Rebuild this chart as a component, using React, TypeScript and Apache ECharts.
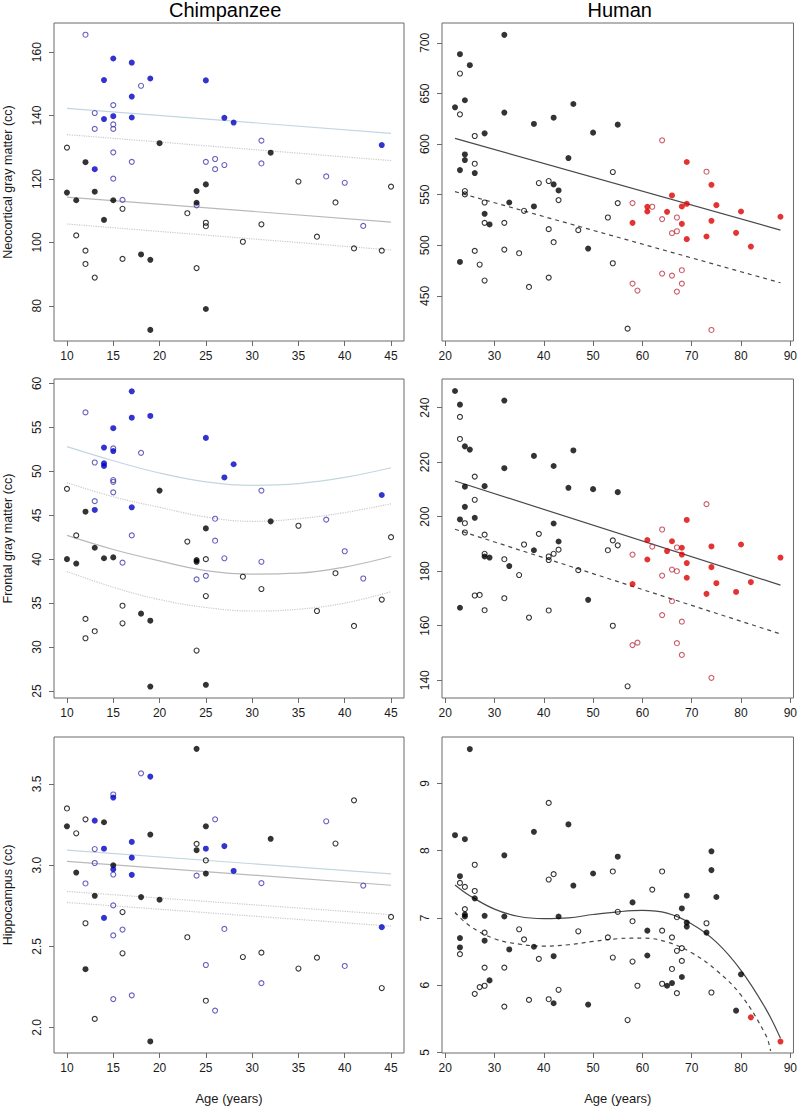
import { useEffect, useRef } from 'react'
import * as echarts from 'echarts'

// ─── tick labels ───
const CHIMP_AGE_TICKS = [10, 15, 20, 25, 30, 35, 40, 45]
const HUMAN_AGE_TICKS = [20, 30, 40, 50, 60, 70, 80, 90]
const NEO_CHIMP_TICKS = [80, 100, 120, 140, 160]
const NEO_HUMAN_TICKS = [450, 500, 550, 600, 650, 700]
const FRONT_CHIMP_TICKS = [25, 30, 35, 40, 45, 50, 55, 60]
const FRONT_HUMAN_TICKS = [140, 160, 180, 200, 220, 240]
const HIPPO_CHIMP_TICKS = [2.0, 2.5, 3.0, 3.5]
const HIPPO_HUMAN_TICKS = [5, 6, 7, 8, 9]

const TITLES = ['Chimpanzee', 'Human']
const Y_NAMES = ['Neocortical gray matter (cc)', 'Frontal gray matter (cc)', 'Hippocampus (cc)']
const X_NAME = 'Age (years)'

// ─── chimpanzee neocortical gray matter [age, cc] ───
const neoChBlackFilled = [
  [10, 115.7], [11, 113.3], [12, 125.3], [13, 116.0], [14, 107.1], [15, 113.3], [18, 96.2], [19, 94.5],
  [19, 72.4], [20, 131.3], [24, 116.2], [24, 112.5], [25, 118.3], [25, 79.0], [32, 128.3],
]
const neoChBlackOpen = [
  [10, 129.9], [11, 102.2], [12, 97.4], [12, 93.2], [13, 88.9], [16, 110.6], [16, 94.8], [23, 109.2],
  [24, 91.9], [25, 106.2], [25, 105.1], [29, 100.2], [31, 105.7], [35, 119.2], [37, 101.8], [39, 112.6],
  [41, 98.1], [44, 97.4], [45, 117.6],
]
const neoChBlueFilled = [
  [15, 158.0], [17, 156.7], [14, 151.2], [19, 151.7], [25, 151.1], [17, 146.0], [14, 138.9], [15, 139.8],
  [17, 139.4], [27, 139.3], [28, 137.8], [13, 123.1], [44, 130.7],
]
const neoChBlueOpen = [
  [12, 165.5], [18, 149.4], [15, 143.3], [13, 140.8], [13, 135.8], [15, 137.2], [15, 135.8], [15, 128.4],
  [17, 125.4], [15, 120.1], [31, 132.1], [31, 124.9], [25, 125.4], [26, 126.3], [26, 123.1], [27, 124.4],
  [16, 113.4], [24, 111.7], [38, 120.8], [40, 118.8], [42, 105.2],
]

// ─── chimpanzee frontal gray matter ───
const frontChBlackFilled = [
  [10, 40.0], [11, 39.5], [12, 45.4], [13, 41.3], [14, 40.1], [15, 40.2], [18, 33.8], [19, 33.0],
  [19, 25.5], [20, 47.8], [24, 39.9], [24, 39.7], [25, 43.5], [25, 25.7], [32, 44.3],
]
const frontChBlackOpen = [
  [10, 48.0], [11, 42.7], [12, 33.2], [12, 31.0], [13, 31.8], [16, 34.7], [16, 32.7], [23, 42.0],
  [24, 29.6], [25, 40.0], [25, 35.8], [29, 38.0], [31, 36.6], [35, 43.8], [37, 34.1], [39, 38.4],
  [41, 32.4], [44, 35.4], [45, 42.5],
]
const frontChBlueFilled = [
  [17, 59.1], [17, 56.1], [19, 56.3], [15, 54.9], [25, 53.8], [14, 52.7], [15, 52.3], [14, 50.9],
  [14, 50.6], [28, 50.8], [27, 49.3], [17, 45.9], [13, 45.6], [44, 47.3],
]
const frontChBlueOpen = [
  [12, 56.7], [18, 52.1], [15, 52.6], [13, 51.0], [15, 49.0], [15, 48.8], [15, 47.6], [13, 46.6],
  [17, 42.7], [16, 39.6], [31, 47.8], [26, 44.6], [26, 42.1], [27, 40.1], [31, 39.7], [25, 38.1],
  [24, 37.7], [38, 44.5], [40, 40.9], [42, 37.8],
]

// ─── chimpanzee hippocampus ───
const hipChBlackFilled = [
  [10, 3.239], [11, 2.954], [12, 2.359], [13, 2.811], [14, 3.264], [15, 2.999], [18, 2.803], [19, 3.188],
  [19, 1.914], [20, 2.787], [24, 3.716], [24, 3.092], [25, 3.239], [25, 2.948], [32, 3.162],
]
const hipChBlackOpen = [
  [10, 3.349], [11, 3.196], [12, 3.282], [12, 2.642], [13, 2.053], [16, 2.711], [16, 2.457], [23, 2.556],
  [24, 3.131], [25, 3.029], [25, 2.165], [29, 2.434], [31, 2.461], [35, 2.363], [37, 2.430], [39, 3.133],
  [41, 3.399], [44, 2.243], [45, 2.681],
]
const hipChBlueFilled = [
  [13, 3.274], [14, 3.101], [14, 2.675], [15, 3.416], [15, 2.974], [17, 3.143], [17, 3.046], [17, 2.940],
  [19, 3.545], [25, 3.101], [27, 3.117], [28, 2.964], [44, 2.618],
]
const hipChBlueOpen = [
  [13, 3.099], [13, 3.013], [12, 2.887], [15, 3.435], [15, 2.942], [15, 2.752], [15, 2.567], [16, 2.603],
  [17, 2.198], [15, 2.175], [18, 3.565], [24, 2.935], [25, 2.385], [26, 3.282], [26, 2.104], [27, 2.607],
  [31, 2.889], [31, 2.273], [38, 3.270], [40, 2.379], [42, 2.874],
]

// ─── human neocortical gray matter ───
const neoHuBlackFilled = [
  [22, 636.3], [23, 688.8], [23, 574.3], [23, 483.6], [24, 643.3], [24, 589.8], [24, 584.2], [25, 677.9],
  [26, 571.4], [28, 610.6], [28, 531.1], [29, 520.6], [32, 707.9], [32, 631.1], [33, 542.3], [38, 619.9],
  [38, 538.4], [42, 626.1], [42, 560.2], [43, 554.2], [45, 586.2], [46, 639.6], [49, 496.8], [50, 611.3],
  [55, 619.2],
]
const neoHuBlackOpen = [
  [23, 669.7], [23, 629.4], [24, 553.6], [24, 550.3], [26, 608.0], [26, 580.6], [26, 494.5], [27, 481.0],
  [28, 542.3], [28, 522.2], [28, 465.2], [32, 522.2], [32, 495.8], [35, 492.2], [36, 534.1], [37, 458.9],
  [39, 561.5], [41, 563.5], [41, 516.0], [41, 468.1], [42, 503.1], [43, 544.7], [47, 515.0], [53, 527.5],
  [54, 572.4], [54, 482.3], [55, 541.7], [57, 417.7],
]
const neoHuRedFilled = [
  [58, 522.2], [61, 538.1], [61, 533.4], [65, 533.1], [66, 549.3], [68, 538.4], [68, 521.2], [69, 582.3],
  [69, 541.0], [69, 506.1], [73, 508.7], [74, 559.8], [74, 524.2], [75, 539.7], [79, 512.3], [80, 533.4],
  [82, 498.8], [88, 528.2],
]
const neoHuRedOpen = [
  [64, 603.7], [58, 541.7], [62, 538.1], [64, 525.9], [66, 512.0], [67, 527.5], [67, 513.9], [73, 572.7],
  [58, 462.2], [59, 455.3], [64, 472.1], [66, 470.1], [67, 454.3], [68, 475.4], [68, 462.2], [74, 416.4],
]

// ─── human frontal gray matter ───
const frontHuBlackFilled = [
  [22, 246.1], [23, 241.1], [23, 166.6], [23, 199.0], [24, 225.8], [24, 211.0], [24, 203.6], [25, 224.6],
  [26, 199.6], [28, 211.2], [28, 185.4], [29, 185.0], [32, 242.6], [32, 217.8], [33, 181.9], [38, 222.3],
  [38, 187.7], [42, 218.6], [42, 197.5], [43, 190.9], [45, 210.6], [46, 224.3], [49, 169.5], [50, 210.1],
  [55, 209.0],
]
const frontHuBlackOpen = [
  [23, 236.6], [23, 228.5], [24, 197.6], [24, 194.2], [26, 214.7], [26, 206.2], [26, 171.1], [27, 171.3],
  [28, 193.4], [28, 186.4], [28, 165.7], [32, 184.4], [32, 170.1], [35, 178.6], [36, 189.8], [37, 163.0],
  [39, 193.7], [41, 185.4], [41, 184.1], [41, 165.6], [42, 186.4], [43, 187.9], [47, 180.4], [53, 187.7],
  [54, 191.3], [54, 160.0], [55, 189.5], [57, 137.8],
]
const frontHuRedFilled = [
  [58, 175.3], [61, 191.4], [61, 184.3], [65, 187.4], [66, 191.0], [68, 188.6], [68, 186.1], [69, 198.8],
  [69, 183.0], [69, 177.6], [73, 171.7], [74, 189.1], [74, 181.5], [75, 175.6], [79, 172.4], [80, 189.8],
  [82, 176.0], [88, 185.0],
]
const frontHuRedOpen = [
  [73, 204.6], [64, 195.3], [58, 186.1], [62, 189.0], [64, 178.4], [67, 188.7], [66, 180.6], [67, 180.0],
  [66, 169.0], [64, 163.9], [68, 161.5], [58, 152.9], [59, 153.8], [67, 153.6], [68, 149.3], [74, 140.9],
]

// ─── human hippocampus ───
const hipHuBlackFilled = [
  [22, 8.23], [23, 7.62], [23, 6.70], [23, 6.56], [24, 8.17], [24, 7.05], [24, 7.02], [25, 9.51],
  [26, 7.29], [28, 7.03], [28, 6.66], [29, 6.07], [32, 7.93], [32, 7.02], [33, 6.53], [38, 8.28],
  [38, 6.57], [42, 6.43], [42, 5.73], [43, 7.02], [45, 8.39], [46, 7.48], [49, 5.71], [50, 7.66],
  [55, 7.91], [58, 7.23], [61, 6.81], [61, 6.44], [65, 5.99], [66, 6.03], [68, 7.14], [68, 6.12],
  [69, 7.33], [69, 6.93], [69, 6.87], [73, 6.78], [74, 7.99], [74, 7.71], [75, 7.31], [79, 5.62],
  [80, 6.16],
]
const hipHuBlackOpen = [
  [23, 7.52], [23, 6.46], [24, 7.46], [24, 7.13], [26, 7.79], [26, 7.40], [26, 5.87], [27, 5.97],
  [28, 6.78], [28, 6.26], [28, 5.99], [32, 6.26], [32, 5.68], [35, 6.83], [36, 6.68], [37, 5.78],
  [39, 6.39], [41, 8.71], [41, 7.57], [41, 5.79], [42, 7.65], [43, 5.93], [47, 6.80], [53, 6.71],
  [54, 7.69], [54, 6.41], [55, 7.09], [57, 5.48], [58, 6.95], [58, 6.35], [59, 5.99], [62, 7.42],
  [64, 7.69], [64, 6.81], [64, 6.02], [66, 6.71], [66, 6.24], [67, 7.01], [67, 6.51], [67, 5.88],
  [68, 6.55], [68, 6.36], [73, 6.92], [74, 5.89],
]
const hipHuRedFilled = [[82, 5.52], [88, 5.16]]

// ─── fitted lines ───
const neoChFitBlue = [[10, 142.3], [45, 134.4]]
const neoChCiBlue = [[10, 134.0], [45, 125.8]]
const neoChFitGray = [[10, 114.3], [45, 106.4]]
const neoChCiGray = [[10, 105.8], [45, 97.6]]

const frontChFitBlue = [[10, 52.8], [15, 51.2], [20, 49.8], [25, 48.8], [30, 48.4], [35, 48.6], [40, 49.3], [45, 50.4]]
const frontChCiBlue = [[10, 48.7], [15, 47.1], [20, 45.9], [25, 44.8], [30, 44.3], [35, 44.6], [40, 45.3], [45, 46.3]]
const frontChFitGray = [[10, 42.7], [15, 41.1], [20, 39.8], [25, 38.7], [30, 38.3], [35, 38.4], [40, 39.1], [45, 40.3]]
const frontChCiGray = [[10, 38.6], [15, 36.8], [20, 35.4], [25, 34.5], [30, 34.1], [35, 34.3], [40, 35.0], [45, 36.3]]

const hipChFitBlue = [[10, 3.092], [45, 2.946]]
const hipChFitGray = [[10, 3.023], [45, 2.876]]
const hipChCiBlue = [[10, 2.838], [45, 2.695]]
const hipChCiGray = [[10, 2.770], [45, 2.624]]

const neoHuFit = [[22, 605.7], [88, 515.0]]
const neoHuCi = [[22, 553.0], [88, 463.0]]
const frontHuFit = [[22, 213.1], [88, 174.9]]
const frontHuCi = [[22, 195.4], [88, 157.0]]

const hipHuFit = [
  [22, 7.49], [25, 7.33], [30, 7.13], [35, 7.02], [40, 6.99], [45, 7.0], [50, 7.05], [55, 7.09],
  [60, 7.11], [65, 7.07], [70, 6.91], [75, 6.64], [80, 6.22], [85, 5.65], [88, 5.21],
]
const hipHuCi = [
  [22, 7.08], [25, 6.88], [30, 6.69], [35, 6.61], [40, 6.58], [45, 6.6], [50, 6.65], [55, 6.69],
  [60, 6.7], [65, 6.64], [70, 6.48], [75, 6.22], [80, 5.85], [85, 5.26], [86, 5.02],
]

// ─── styles ───
const FONT = 'Liberation Sans, Arial, Helvetica, sans-serif'
const BOX = '#6a6a6a'
const BLACK = '#000000'
const BLUE = '#0000c4'
const BLUE_OPEN = '#4038ac'
const RED = '#dc0000'
const RED_OPEN = '#bd3446'
const CH_BLUE_LINE = '#c3d6e0'
const CH_GRAY_LINE = '#b9b9b9'
const CH_CI_LINE = '#c9c9c9'
const HU_LINE = '#484848'

// grid boxes: [left, width] per column, [top, height] per row
const COLS = [[48, 356], [442, 355]]
const ROWS = [[23, 318], [379, 319], [737, 318]]

const X_RANGE = [[8.6, 46.4], [19.36, 90.64]]
const Y_RANGE = [
  [[68.9, 169.2], [405.5, 719.6]],
  [[24.2, 60.5], [133.5, 250.5]],
  [[1.843, 3.789], [4.99, 9.69]],
]
const Y_TICKS = [
  [NEO_CHIMP_TICKS, NEO_HUMAN_TICKS],
  [FRONT_CHIMP_TICKS, FRONT_HUMAN_TICKS],
  [HIPPO_CHIMP_TICKS, HIPPO_HUMAN_TICKS],
]

function filled(idx: number, data: number[][], color: string) {
  return {
    type: 'scatter', xAxisIndex: idx, yAxisIndex: idx, data,
    symbol: 'circle', symbolSize: 6, z: 3,
    itemStyle: { color, borderWidth: 0 },
  }
}

function open(idx: number, data: number[][], color: string) {
  return {
    type: 'scatter', xAxisIndex: idx, yAxisIndex: idx, data,
    symbol: 'circle', symbolSize: 5, z: 3,
    itemStyle: { color: 'rgba(255,255,255,0)', borderColor: color, borderWidth: 1.1 },
  }
}

function line(idx: number, data: number[][], color: string, type: any, width = 1.2, smooth: number | boolean = false) {
  return {
    type: 'line', xAxisIndex: idx, yAxisIndex: idx, data,
    showSymbol: false, symbol: 'none', smooth, z: 2,
    lineStyle: { color, width, type },
  }
}

export default function App() {
  const ref = useRef<HTMLDivElement>(null)

  useEffect(() => {
    if (!ref.current) return
    document.body.style.margin = '0'
    const chart = echarts.init(ref.current, null, { renderer: 'svg' })

    const grids: any[] = []
    const xAxes: any[] = []
    const yAxes: any[] = []
    ROWS.forEach(([top, height], r) => {
      COLS.forEach(([left, width], c) => {
        grids.push({
          left, top, width, height, containLabel: false,
          show: true, borderColor: BOX, borderWidth: 1, backgroundColor: 'transparent',
        })
        const i = grids.length - 1
        const xt = c === 0 ? CHIMP_AGE_TICKS : HUMAN_AGE_TICKS
        xAxes.push({
          type: 'value', gridIndex: i,
          min: X_RANGE[c][0], max: X_RANGE[c][1],
          splitLine: { show: false },
          axisLine: { show: false },
          axisTick: { show: true, length: 5, customValues: xt, lineStyle: { color: BOX } },
          axisLabel: { customValues: xt, margin: 9, fontSize: 12, color: '#1a1a1a', fontFamily: FONT },
          name: r === 2 ? X_NAME : '',
          nameLocation: 'middle', nameGap: 39,
          nameTextStyle: { fontSize: 13, color: '#1a1a1a', fontFamily: FONT },
        })
        const yt = Y_TICKS[r][c]
        yAxes.push({
          type: 'value', gridIndex: i,
          min: Y_RANGE[r][c][0], max: Y_RANGE[r][c][1],
          splitLine: { show: false },
          axisLine: { show: false },
          axisTick: { show: true, length: 5, customValues: yt, lineStyle: { color: BOX } },
          axisLabel: {
            customValues: yt, rotate: 90, margin: 11, fontSize: 12, color: '#1a1a1a', fontFamily: FONT,
            formatter: (v: number) => (r === 2 && c === 0 ? v.toFixed(1) : String(v)),
          },
          name: c === 0 ? Y_NAMES[r] : '',
          nameLocation: 'middle', nameGap: 40, nameRotate: 90,
          nameTextStyle: { fontSize: 12.5, color: '#1a1a1a', fontFamily: FONT },
        })
      })
    })

    const series = [
      // chimp neocortex (grid 0)
      line(0, neoChFitBlue, CH_BLUE_LINE, 'solid'),
      line(0, neoChCiBlue, CH_CI_LINE, 'dotted'),
      line(0, neoChFitGray, CH_GRAY_LINE, 'solid'),
      line(0, neoChCiGray, CH_CI_LINE, 'dotted'),
      open(0, neoChBlackOpen, BLACK), open(0, neoChBlueOpen, BLUE_OPEN),
      filled(0, neoChBlackFilled, BLACK), filled(0, neoChBlueFilled, BLUE),
      // human neocortex (grid 1)
      line(1, neoHuFit, HU_LINE, 'solid'),
      line(1, neoHuCi, HU_LINE, [4, 4]),
      open(1, neoHuBlackOpen, BLACK), open(1, neoHuRedOpen, RED_OPEN),
      filled(1, neoHuBlackFilled, BLACK), filled(1, neoHuRedFilled, RED),
      // chimp frontal (grid 2)
      line(2, frontChFitBlue, CH_BLUE_LINE, 'solid', 1.2, 0.4),
      line(2, frontChCiBlue, CH_CI_LINE, 'dotted', 1.2, 0.4),
      line(2, frontChFitGray, CH_GRAY_LINE, 'solid', 1.2, 0.4),
      line(2, frontChCiGray, CH_CI_LINE, 'dotted', 1.2, 0.4),
      open(2, frontChBlackOpen, BLACK), open(2, frontChBlueOpen, BLUE_OPEN),
      filled(2, frontChBlackFilled, BLACK), filled(2, frontChBlueFilled, BLUE),
      // human frontal (grid 3)
      line(3, frontHuFit, HU_LINE, 'solid'),
      line(3, frontHuCi, HU_LINE, [4, 4]),
      open(3, frontHuBlackOpen, BLACK), open(3, frontHuRedOpen, RED_OPEN),
      filled(3, frontHuBlackFilled, BLACK), filled(3, frontHuRedFilled, RED),
      // chimp hippocampus (grid 4)
      line(4, hipChFitBlue, CH_BLUE_LINE, 'solid'),
      line(4, hipChFitGray, CH_GRAY_LINE, 'solid'),
      line(4, hipChCiBlue, CH_CI_LINE, 'dotted'),
      line(4, hipChCiGray, CH_CI_LINE, 'dotted'),
      open(4, hipChBlackOpen, BLACK), open(4, hipChBlueOpen, BLUE_OPEN),
      filled(4, hipChBlackFilled, BLACK), filled(4, hipChBlueFilled, BLUE),
      // human hippocampus (grid 5)
      line(5, hipHuFit, HU_LINE, 'solid', 1.2, 0.4),
      line(5, hipHuCi, HU_LINE, [4, 4], 1.2, 0.4),
      open(5, hipHuBlackOpen, BLACK),
      filled(5, hipHuBlackFilled, BLACK), filled(5, hipHuRedFilled, RED),
    ]

    chart.setOption({
      animation: false,
      backgroundColor: '#ffffff',
      graphic: TITLES.map((t, c) => ({
        type: 'text', left: COLS[c][0] + COLS[c][1] / 2 - (c === 0 ? 57 : 32), top: 0,
        style: { text: t, fontSize: 20, fill: '#000', fontFamily: FONT },
      })),
      grid: grids,
      xAxis: xAxes,
      yAxis: yAxes,
      series,
    })

    return () => chart.dispose()
  }, [])

  return <div ref={ref} style={{ width: 800, height: 1106 }} />
}
